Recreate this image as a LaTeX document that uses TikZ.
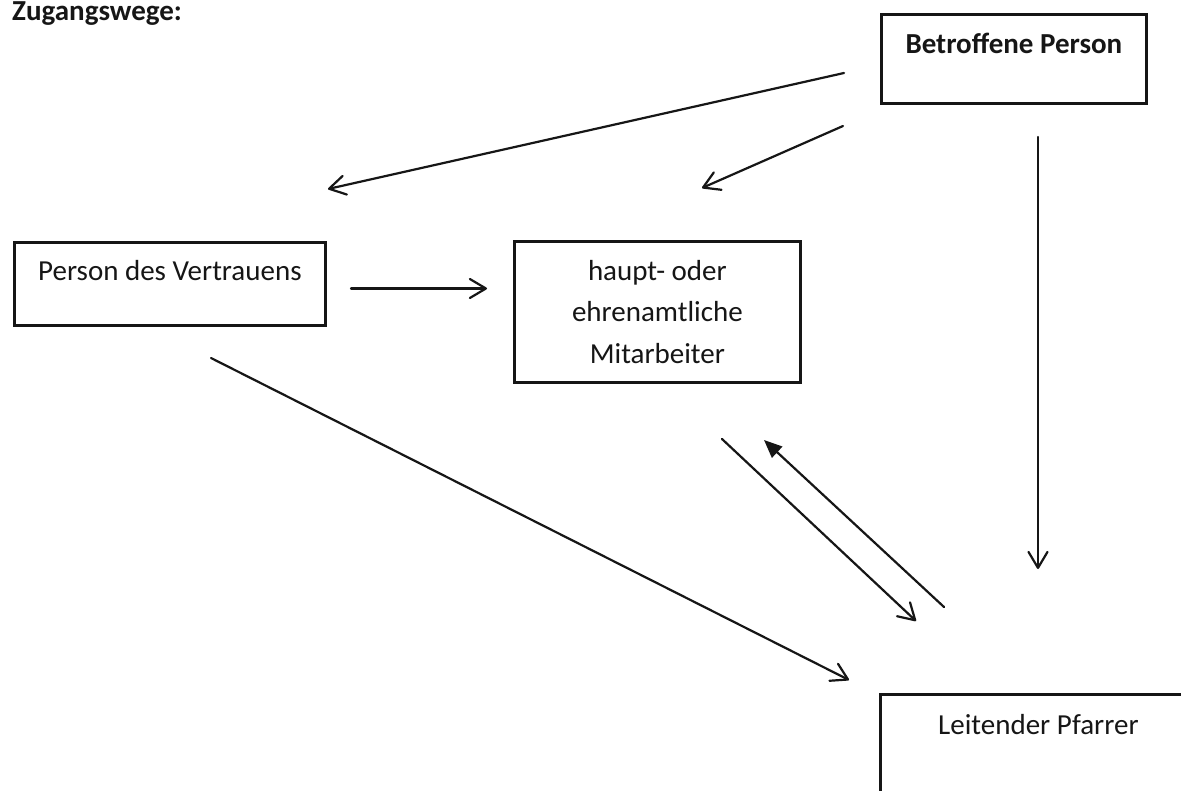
\documentclass[tikz,border=0pt]{standalone}
\usepackage{fontspec}
\setmainfont{Carlito}
\usetikzlibrary{arrows.meta}
\definecolor{ink}{RGB}{22,22,22}
\tikzset{
  basefont/.style={font=\fontsize{29bp}{41.5bp}\selectfont},
  boldfont/.style={font=\fontsize{29bp}{41.5bp}\selectfont\bfseries},
  box/.style={draw=ink, text=ink, line width=2.8bp, inner sep=0pt, anchor=north west},
  conn/.style={draw=ink, line width=2.2bp, line cap=round,
    -{Straight Barb[length=16bp,width=19bp,round]}},
  back/.style={draw=ink, line width=2.2bp, line cap=round,
    -{Triangle[length=18bp,width=15bp]}}
}
\begin{document}
\begin{tikzpicture}[x=1bp,y=-1bp]
\useasboundingbox (0,0) rectangle (1181,791);
\clip (0,0) rectangle (1181,791);
\fill[white] (0,0) rectangle (1181,791);

% title
\node[boldfont, text=ink, anchor=base west, inner sep=0pt] (title) at (12,21) {Zugangswege:};

% boxes
\node[box, boldfont, minimum width=265bp, text height=39bp, text depth=50bp]
  (bp) at (880,13) {Betroffene Person};
\node[box, basefont, minimum width=311bp, text height=38bp, text depth=45bp]
  (pv) at (13,241) {Person des Vertrauens};
\node[box, basefont, minimum width=286bp, minimum height=141bp, align=center]
  (ma) at (513,240) {haupt- oder\\ehrenamtliche\\Mitarbeiter};
\node[box, basefont, minimum width=316bp, text height=40bp, text depth=72bp]
  (lp) at (879,693) {Leitender Pfarrer};

% connector end points
\coordinate (a1s) at (844,73);   \coordinate (a1e) at (328,189);
\coordinate (a2s) at (843,126);  \coordinate (a2e) at (702,188);
\coordinate (a3s) at (1038,137); \coordinate (a3e) at (1038,569);
\coordinate (a4s) at (351,288.5);\coordinate (a4e) at (487,288.5);
\coordinate (a5s) at (211,358);  \coordinate (a5e) at (849,680);
\coordinate (a6s) at (722,439);  \coordinate (a6e) at (916,621);
\coordinate (a7s) at (944,607);  \coordinate (a7e) at (764,440);

% connectors
\draw[conn] (a1s) -- (a1e);
\draw[conn] (a2s) -- (a2e);
\draw[conn] (a3s) -- (a3e);
\draw[conn] (a4s) -- (a4e);
\draw[conn] (a5s) -- (a5e);
\draw[conn] (a6s) -- (a6e);
\draw[back] (a7s) -- (a7e);
\end{tikzpicture}
\end{document}
